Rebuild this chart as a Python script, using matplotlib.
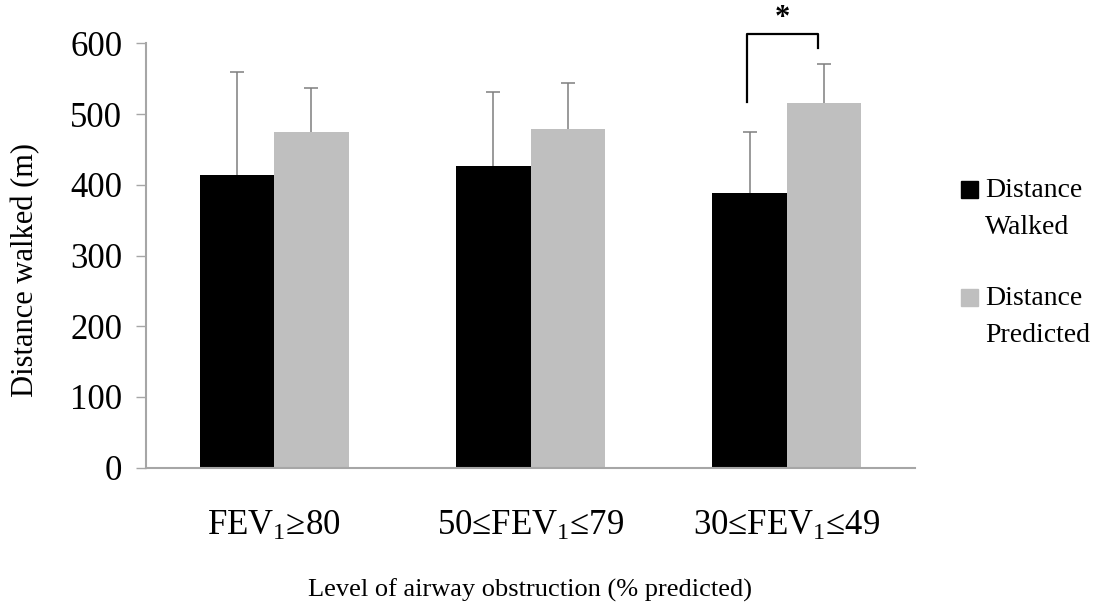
import matplotlib.pyplot as plt
from matplotlib.patches import Rectangle

plt.rcParams['font.family'] = ['Liberation Serif', 'DejaVu Serif']
plt.rcParams['mathtext.fontset'] = 'custom'
plt.rcParams['mathtext.rm'] = 'Liberation Serif'
plt.rcParams['mathtext.it'] = 'Liberation Serif'

# data
categories = ["FEV$_1$≥80", "50≤FEV$_1$≤79", "30≤FEV$_1$≤49"]
walked = [414, 426, 389]
walked_err = [146, 105, 86]
predicted = [474, 479, 515]
predicted_err = [63, 65, 56]
series_names = ["Distance\nWalked", "Distance\nPredicted"]
series_colors = ["#000000", "#BFBFBF"]
yticks = [0, 100, 200, 300, 400, 500, 600]

# significance bracket on the third group (left foot, top, right foot)
sig_group = 2
sig_levels = [517, 613, 593]
sig_star_y = 635

W, H = 1096, 605
fig = plt.figure(figsize=(W / 100, H / 100), dpi=100)
ax = fig.add_axes([146 / W, 1 - 467.7 / H, (915 - 146) / W, (467.7 - 43.3) / H])

width = 0.29
x = list(range(len(categories)))
x_w = [i - width / 2 for i in x]
x_p = [i + width / 2 for i in x]

err_kw = dict(ecolor="#7F7F7F", elinewidth=1.1, capsize=5, capthick=1.1)
b1 = ax.bar(x_w, walked, width, color=series_colors[0],
            yerr=[[0] * len(walked), walked_err], error_kw=err_kw)
b2 = ax.bar(x_p, predicted, width, color=series_colors[1],
            yerr=[[0] * len(predicted), predicted_err], error_kw=err_kw)
# only the upper cap is drawn in the reference
for b in (b1, b2):
    caps = b.errorbar.lines[1]
    caps[0].set_visible(False)

ax.set_xlim(-0.5, len(categories) - 0.5)
ax.set_ylim(0, 600)
ax.set_yticks(yticks)
ax.set_xticks(x)
ax.set_xticklabels(categories, fontsize=25)
ax.tick_params(axis="x", length=0, pad=30)
ax.tick_params(axis="y", labelsize=25, length=7, width=1, color="#A6A6A6", pad=10)

for s in ["top", "right"]:
    ax.spines[s].set_visible(False)
for s in ["left", "bottom"]:
    ax.spines[s].set_color("#A6A6A6")
    ax.spines[s].set_linewidth(1.5)

ax.set_ylabel("Distance walked (m)", fontsize=22)
ax.yaxis.set_label_coords(-0.137, 0.466)
ax.set_xlabel("Level of airway obstruction (% predicted)", fontsize=19, labelpad=26)

# bracket
xl = x_w[sig_group] - 0.012
xr = x_p[sig_group] - 0.024
ax.plot([xl, xl, xr, xr], [sig_levels[0], sig_levels[1], sig_levels[1], sig_levels[2]],
        color="black", lw=1.6, clip_on=False)
ax.text((xl + xr) / 2, sig_star_y, "*", ha="center", va="center",
        fontsize=22, fontweight="bold", clip_on=False)

# legend drawn by hand (square aligned with first text line)
legend_tops = [181, 289]
for name, col, top in zip(series_names, series_colors, legend_tops):
    fig.patches.append(Rectangle((961 / W, 1 - (top + 17) / H), 17 / W, 17 / H,
                                 transform=fig.transFigure, color=col))
    fig.text(985 / W, 1 - (top - 3) / H, name, fontsize=20, va="top", ha="left",
             linespacing=1.65)

fig.savefig("out.png", dpi=100)
